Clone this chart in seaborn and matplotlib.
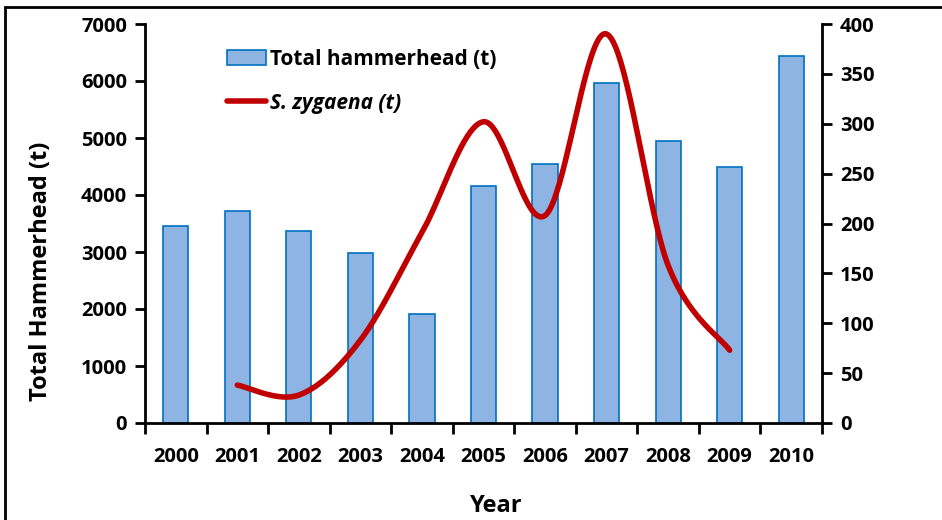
import numpy as np
import matplotlib
matplotlib.use("Agg")
import matplotlib.pyplot as plt
import seaborn as sns
from matplotlib.patches import Rectangle

# data
years = ["2000", "2001", "2002", "2003", "2004", "2005", "2006", "2007", "2008", "2009", "2010"]
total_hammerhead = [3450, 3720, 3370, 2980, 1910, 4160, 4540, 5960, 4950, 4490, 6440]
zyg_years = ["2001", "2002", "2003", "2004", "2005", "2006", "2007", "2008", "2009"]
zygaena = [38, 28, 83, 191, 302, 208, 390, 158, 73]

BAR_FILL = "#8DB4E2"
BAR_EDGE = "#0070C0"
LINE_COL = "#C00000"


def smooth(xs, ys, n=40):
    # excel style smoothed line (bezier through the points)
    xs = np.asarray(xs, float)
    ys = np.asarray(ys, float)
    px = np.concatenate([[xs[0]], xs, [xs[-1]]])
    py = np.concatenate([[ys[0]], ys, [ys[-1]]])
    out_x, out_y = [], []
    for i in range(1, len(px) - 2):
        p0 = np.array([px[i], py[i]])
        p3 = np.array([px[i + 1], py[i + 1]])
        c1 = p0 + (np.array([px[i + 1], py[i + 1]]) - np.array([px[i - 1], py[i - 1]])) / 6
        c2 = p3 - (np.array([px[i + 2], py[i + 2]]) - np.array([px[i], py[i]])) / 6
        t = np.linspace(0, 1, n)[:, None]
        pts = (1 - t) ** 3 * p0 + 3 * (1 - t) ** 2 * t * c1 + 3 * (1 - t) * t ** 2 * c2 + t ** 3 * p3
        out_x.extend(pts[:, 0])
        out_y.extend(pts[:, 1])
    return np.array(out_x), np.array(out_y)


sns.set_theme(style="white")
plt.rcParams["font.family"] = ["Open Sans", "DejaVu Sans"]
plt.rcParams["font.weight"] = "bold"
for key in ["text.color", "axes.labelcolor", "xtick.color", "ytick.color"]:
    plt.rcParams[key] = "black"

fig = plt.figure(figsize=(9.42, 5.2), dpi=100)
ax = fig.add_axes([145 / 942, 1 - 423 / 520, (822 - 145) / 942, (423 - 24) / 520])

sns.barplot(x=years, y=total_hammerhead, color=BAR_FILL, edgecolor=BAR_EDGE,
            linewidth=1.2, width=0.41, saturation=1, ax=ax, label="Total hammerhead (t)")
if ax.get_legend() is not None:
    ax.get_legend().remove()

ax.set_xlim(-0.5, len(years) - 0.5)
ax.set_ylim(0, 7000)
ax.set_yticks(range(0, 7001, 1000))
ax.set_xticks(np.arange(len(years) + 1) - 0.5, minor=False)
ax.set_xticklabels([])
ax.set_xticks(range(len(years)), labels=years, minor=True)
ax.tick_params(axis="x", which="major", direction="out", length=8, width=2, color="black", bottom=True)
ax.tick_params(axis="x", which="minor", length=0, pad=17, labelsize=14.5, labelcolor="black")
ax.tick_params(axis="y", direction="out", length=7, width=2, color="black", left=True,
               labelsize=14.5, pad=6, labelcolor="black")
for lab in ax.get_xticklabels(minor=True) + ax.get_yticklabels():
    lab.set_fontweight("bold")
ax.set_xlabel("Year", fontsize=17, fontweight="bold", color="black")
ax.set_ylabel("Total Hammerhead (t)", fontsize=17, fontweight="bold", color="black")
ax.xaxis.set_label_coords((496 - 145) / 677, (423 - 494) / 399)
ax.yaxis.set_label_coords((53 - 145) / 677, (423 - 271) / 399)
for side in ["left", "bottom"]:
    ax.spines[side].set_linewidth(2)
    ax.spines[side].set_color("black")
ax.spines["top"].set_visible(False)
ax.spines["right"].set_visible(False)

ax2 = ax.twinx()
zx = [years.index(y) for y in zyg_years]
sx, sy = smooth(zx, zygaena)
ax2.plot(sx, sy, color=LINE_COL, lw=4, solid_capstyle="round", label="S. zygaena (t)")
ax2.set_ylim(0, 400)
ax2.set_yticks(range(0, 401, 50))
ax2.tick_params(axis="y", direction="out", length=7, width=2, color="black", right=True,
                labelsize=14.5, pad=6, labelcolor="black")
for lab in ax2.get_yticklabels():
    lab.set_fontweight("bold")
ax2.spines["right"].set_linewidth(2)
ax2.spines["right"].set_color("black")
for side in ["top", "left", "bottom"]:
    ax2.spines[side].set_visible(False)
ax2.grid(False)

h1, l1 = ax.get_legend_handles_labels()
h2, l2 = ax2.get_legend_handles_labels()
leg = fig.legend(h1 + h2, l1 + l2, loc="upper left", bbox_to_anchor=(208 / 942, 1 - 30 / 520),
                 frameon=False, fontsize=15, handlelength=1.9, handletextpad=0.2, labelspacing=1.1)
for txt in leg.get_texts():
    txt.set_fontweight("bold")
    txt.set_color("black")
leg.get_texts()[1].set_fontstyle("italic")

# outer frame
fig.patches.append(Rectangle((5 / 942, -0.01), 1.0, 1 - 7 / 520 + 0.01, transform=fig.transFigure,
                             fill=False, edgecolor="black", lw=2))

fig.savefig("out.png", dpi=100)
